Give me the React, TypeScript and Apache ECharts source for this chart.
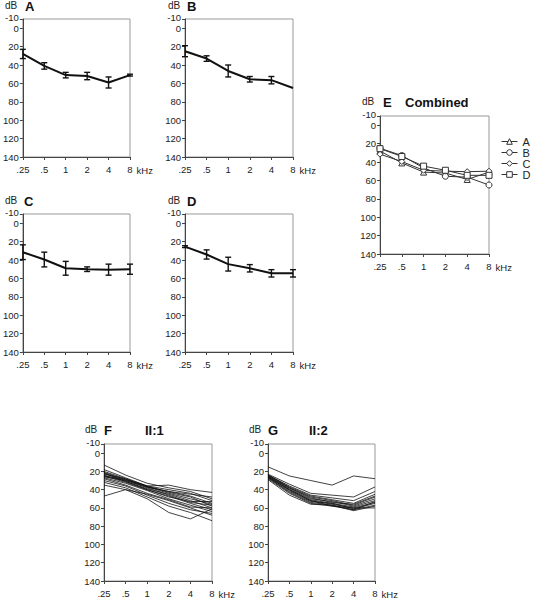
import React, { useEffect, useRef } from "react";
import * as echarts from "echarts";

const freqs = [".25", ".5", "1", "2", "4", "8"];
const yMinTick = [-10];
const yTicks = [0, 20, 40, 60, 80, 100, 120, 140];

const meanA = [28, 41, 51, 52, 59, 51];
const errA = [5, 3.5, 3, 4, 6, 1];
const meanB = [25, 33, 46.5, 55.5, 56.5, 65];
const errB = [6, 3, 6.5, 3, 4, 0];
const meanC = [31.5, 39.5, 49, 50, 50.5, 50];
const errC = [8, 8, 7.5, 2.5, 6, 5.5];
const meanD = [25.5, 34, 44.5, 49, 54.5, 54.5];
const errD = [1, 5, 7.5, 4, 4, 4];

const linesF: number[][] = [
  [13, 24, 33, 38, 42, 50],
  [18, 27, 36, 40, 44, 52],
  [20, 28, 37, 42, 47, 55],
  [21, 29, 36, 35, 40, 43],
  [22, 30, 37, 44, 50, 56],
  [23, 28, 36, 43, 48, 58],
  [24, 31, 39, 45, 52, 60],
  [25, 32, 40, 47, 55, 62],
  [26, 30, 38, 46, 54, 57],
  [27, 33, 41, 50, 57, 64],
  [28, 35, 44, 51, 59, 60],
  [30, 36, 46, 55, 62, 66],
  [32, 38, 48, 58, 65, 74],
  [35, 40, 50, 65, 72, 61],
  [47, 40, 45, 52, 60, 68],
  [25, 29, 37, 42, 45, 48],
  [22, 31, 40, 48, 53, 53],
];

const linesG: number[][] = [
  [15, 25, 30, 35, 25, 28],
  [23, 34, 44, 46, 48, 37],
  [24, 36, 46, 49, 52, 42],
  [24, 37, 47, 51, 55, 45],
  [25, 38, 48, 52, 57, 48],
  [25, 39, 50, 53, 58, 50],
  [26, 40, 51, 55, 59, 52],
  [26, 41, 52, 56, 60, 54],
  [27, 42, 53, 55, 61, 55],
  [27, 43, 54, 57, 62, 57],
  [28, 44, 55, 58, 60, 60],
  [29, 46, 56, 57, 63, 58],
  [24, 38, 49, 54, 56, 47],
  [26, 40, 52, 58, 62, 53],
];

const FONT = "Liberation Sans, Arial, sans-serif";

const grids = [
  { left: 22, top: 19, width: 108, height: 138 }, // A
  { left: 185, top: 19, width: 108, height: 138 }, // B
  { left: 22, top: 214, width: 108, height: 138 }, // C
  { left: 185, top: 214, width: 108, height: 138 }, // D
  { left: 380, top: 116, width: 109, height: 138 }, // E
  { left: 104, top: 444, width: 108, height: 138 }, // F
  { left: 268, top: 444, width: 107, height: 138 }, // G
];

function errorBarSeries(idx: number, mean: number[], err: number[]) {
  const data = mean
    .map((m, i) => [i, m - err[i], m + err[i], err[i]])
    .filter((d) => d[3] > 0);
  return {
    type: "custom",
    xAxisIndex: idx,
    yAxisIndex: idx,
    data,
    z: 3,
    renderItem: (params: any, api: any) => {
      const x = api.value(0);
      const p1 = api.coord([x, api.value(1)]);
      const p2 = api.coord([x, api.value(2)]);
      const w = 3;
      const style = { stroke: "#111", lineWidth: 1.4 };
      return {
        type: "group",
        children: [
          { type: "line", shape: { x1: p1[0], y1: p1[1], x2: p2[0], y2: p2[1] }, style },
          { type: "line", shape: { x1: p1[0] - w, y1: p1[1], x2: p1[0] + w, y2: p1[1] }, style },
          { type: "line", shape: { x1: p2[0] - w, y1: p2[1], x2: p2[0] + w, y2: p2[1] }, style },
        ],
      };
    },
  };
}

function meanSeries(idx: number, mean: number[]) {
  return {
    type: "line",
    xAxisIndex: idx,
    yAxisIndex: idx,
    data: mean,
    symbol: "none",
    lineStyle: { color: "#111", width: 2 },
    z: 2,
  };
}

function header(x: number, y: number, dbX: number, letter: string, extra?: { x: number; text: string }) {
  const els: any[] = [
    { type: "text", left: dbX, top: y - 7, style: { text: "dB", font: `10px ${FONT}`, fill: "#222" } },
    { type: "text", left: x, top: y - 7, style: { text: letter, font: `bold 13px ${FONT}`, fill: "#111" } },
  ];
  if (extra) {
    els.push({ type: "text", left: extra.x, top: y - 7, style: { text: extra.text, font: `bold 13px ${FONT}`, fill: "#111" } });
  }
  return els;
}

export default function App() {
  const ref = useRef<HTMLDivElement>(null);
  useEffect(() => {
    if (!ref.current) return;
    const chart = echarts.init(ref.current, null, { renderer: "svg" });

    const xAxes = grids.map((_, i) => ({
      type: "category",
      gridIndex: i,
      data: freqs,
      boundaryGap: false,
      name: "kHz",
      nameLocation: "end",
      nameGap: 6,
      nameTextStyle: { fontFamily: FONT, fontSize: 9.5, color: "#222", verticalAlign: "top", padding: [8, 0, 0, 0] },
      axisLine: { onZero: false, lineStyle: { color: "#444", width: 1 } },
      axisTick: { show: true, inside: false, length: 3, alignWithLabel: true, lineStyle: { color: "#444" } },
      axisLabel: { fontFamily: FONT, fontSize: 9.5, color: "#222", margin: 7, interval: 0 },
      splitLine: { show: false },
    }));

    const labelStyle = { fontFamily: FONT, fontSize: 9.5, color: "#222", margin: 4 };
    const yAxes: any[] = [];
    grids.forEach((_, i) => {
      yAxes.push({
        type: "value",
        gridIndex: i,
        position: "left",
        inverse: true,
        min: -10,
        max: 140,
        axisLine: { show: true, onZero: false, lineStyle: { color: "#444", width: 1 } },
        axisTick: { show: true, length: 3, customValues: [...yMinTick, ...yTicks], lineStyle: { color: "#444" } },
        axisLabel: { ...labelStyle, customValues: yTicks },
        splitLine: { show: false },
      });
    });
    // secondary axes carrying only the "-10" label (nudged up a little to clear the "0")
    grids.forEach((_, i) => {
      yAxes.push({
        type: "value",
        gridIndex: i,
        position: "left",
        offset: 0,
        inverse: true,
        min: -10,
        max: 140,
        axisLine: { show: false },
        axisTick: { show: false },
        axisLabel: { ...labelStyle, customValues: yMinTick, verticalAlign: "bottom", lineHeight: 4 },
        splitLine: { show: false },
      });
    });

    const series: any[] = [];
    const means = [meanA, meanB, meanC, meanD];
    const errs = [errA, errB, errC, errD];
    for (let i = 0; i < 4; i++) {
      series.push(meanSeries(i, means[i]));
      series.push(errorBarSeries(i, means[i], errs[i]));
    }
    const names = ["A", "B", "C", "D"];
    const symbols = ["triangle", "circle", "diamond", "rect"];
    for (let i = 0; i < 4; i++) {
      series.push({
        type: "line",
        name: names[i],
        xAxisIndex: 4,
        yAxisIndex: 4,
        data: means[i],
        symbol: symbols[i],
        symbolSize: 6,
        showSymbol: true,
        lineStyle: { color: "#333", width: 1 },
        itemStyle: { color: "#fff", borderColor: "#333", borderWidth: 1 },
      });
    }
    linesF.forEach((d) =>
      series.push({
        type: "line",
        xAxisIndex: 5,
        yAxisIndex: 5,
        data: d,
        symbol: "none",
        lineStyle: { color: "#111", width: 0.8 },
      })
    );
    linesG.forEach((d) =>
      series.push({
        type: "line",
        xAxisIndex: 6,
        yAxisIndex: 6,
        data: d,
        symbol: "none",
        lineStyle: { color: "#111", width: 0.8 },
      })
    );

    const graphics: any[] = [
      ...header(25, 7, 5, "A"),
      ...header(187, 7, 168, "B"),
      ...header(24, 202, 5, "C"),
      ...header(187, 202, 168, "D"),
      ...header(383, 103, 362, "E", { x: 405, text: "Combined" }),
      ...header(104, 431, 85, "F", { x: 145, text: "II:1" }),
      ...header(268, 431, 249, "G", { x: 309, text: "II:2" }),
    ];

    chart.setOption({
      animation: false,
      backgroundColor: "#fff",
      grid: grids.map((g) => ({ ...g, show: true, borderColor: "#999", borderWidth: 1, backgroundColor: "transparent" })),
      xAxis: xAxes,
      yAxis: yAxes,
      legend: {
        data: names,
        orient: "vertical",
        left: 501,
        top: 136,
        padding: 0,
        itemWidth: 16,
        itemHeight: 7,
        itemGap: 0,
        itemStyle: { color: "#fff", borderColor: "#333", borderWidth: 1 },
        lineStyle: { color: "#333", width: 1 },
        textStyle: { fontFamily: FONT, fontSize: 11, color: "#222" },
      },
      graphic: graphics,
      series,
    });
    return () => chart.dispose();
  }, []);
  return (
    <div
      ref={ref}
      style={{ position: "fixed", left: 0, top: 0, width: 535, height: 599, background: "#fff" }}
    />
  );
}
